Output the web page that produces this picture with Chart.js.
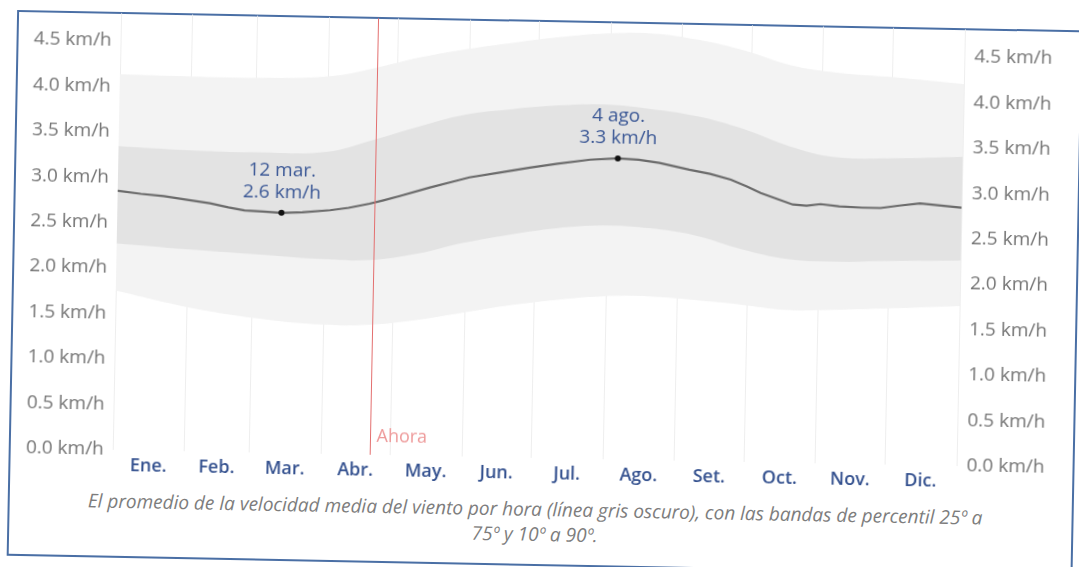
<!DOCTYPE html>
<html>
<head>
<meta charset="utf-8">
<script src="https://cdn.jsdelivr.net/npm/chart.js@4.4.1/dist/chart.umd.min.js"></script>
<style>
  html, body { margin: 0; padding: 0; background: #fff; }
  #page { position: relative; width: 1079px; height: 567px; overflow: hidden; }
  #sheet { position: absolute; left: 0; top: 0; width: 1079px; height: 567px;
           transform: rotate(1.1deg); transform-origin: 540px 283px; }
  #frame { position: absolute; left: 12px; top: 20px; width: 1066px; height: 546px;
           box-sizing: border-box; border: 2px solid #4a6fa5; }
  #chart { position: absolute; left: 0; top: 0; }
  #caption { position: absolute; left: 0; top: 497px; width: 1079px; text-align: center;
             font: italic 19px "Open Sans", sans-serif; line-height: 25px; color: #7d7d7d; }
</style>
</head>
<body>
<div id="page">
  <div id="sheet">
    <div id="frame"></div>
    <canvas id="chart" width="1079" height="488"></canvas>
    <div id="caption">El promedio de la velocidad media del viento por hora (línea gris oscuro), con las bandas de percentil 25º a<br>75º y 10º a 90º.</div>
  </div>
</div>
<script>
// velocidad media del viento – promedio diario y bandas de percentil (km/h)

const monthNames = ["Ene.", "Feb.", "Mar.", "Abr.", "May.", "Jun.", "Jul.", "Ago.", "Set.", "Oct.", "Nov.", "Dic."];
const monthStart = [0, 31, 59, 90, 120, 151, 181, 212, 243, 273, 304, 334, 365];
const monthMid = [15.5, 45, 74.5, 105, 135.5, 166, 196.5, 227.5, 258, 288.5, 319, 349.5];

const meanDays = [0, 10, 20, 31, 40, 48, 55, 63, 71, 80, 92, 100, 109, 115, 122, 135, 145, 152, 165, 178, 190, 204, 216, 225, 234, 247, 256, 265, 272, 278, 285, 292, 298, 304, 312, 322, 330, 338, 347, 356, 365];
const meanKmh = [2.85, 2.82, 2.80, 2.76, 2.73, 2.69, 2.66, 2.65, 2.64, 2.65, 2.68, 2.71, 2.76, 2.80, 2.85, 2.95, 3.02, 3.07, 3.13, 3.19, 3.24, 3.29, 3.31, 3.30, 3.27, 3.20, 3.16, 3.10, 3.03, 2.96, 2.90, 2.84, 2.83, 2.85, 2.83, 2.82, 2.82, 2.85, 2.88, 2.86, 2.84];

const bandDays = [0, 30, 60, 90, 110, 130, 150, 170, 190, 210, 230, 250, 270, 290, 310, 335, 365];
const p10 = [1.75, 1.59, 1.48, 1.42, 1.43, 1.49, 1.58, 1.67, 1.74, 1.79, 1.80, 1.77, 1.73, 1.68, 1.69, 1.72, 1.76];
const p25 = [2.27, 2.22, 2.18, 2.14, 2.14, 2.22, 2.35, 2.45, 2.53, 2.57, 2.55, 2.48, 2.34, 2.24, 2.22, 2.24, 2.26];
const p75 = [3.34, 3.31, 3.30, 3.32, 3.46, 3.62, 3.76, 3.83, 3.88, 3.90, 3.86, 3.79, 3.66, 3.48, 3.37, 3.37, 3.40];
const p90 = [4.13, 4.12, 4.12, 4.15, 4.25, 4.38, 4.48, 4.56, 4.63, 4.68, 4.69, 4.63, 4.52, 4.37, 4.30, 4.26, 4.20];

const yTicks = [0, 0.5, 1, 1.5, 2, 2.5, 3, 3.5, 4, 4.5];
const nowDay = 111;
const markDays = [71, 216];
const markDates = ["12 mar.", "4 ago."];

const pts = (xs, ys) => xs.map((d, i) => ({ x: d, y: ys[i] }));

const markers = {
  id: "markers",
  afterDatasetsDraw(chart) {
    const { ctx, chartArea, scales } = chart;
    const x = scales.x, y = scales.y;
    ctx.save();
    // Ahora
    const nx = Math.round(x.getPixelForValue(nowDay)) + 0.5;
    ctx.strokeStyle = "#e36f6f";
    ctx.lineWidth = 1;
    ctx.beginPath();
    ctx.moveTo(nx, chartArea.top);
    ctx.lineTo(nx, chartArea.bottom);
    ctx.stroke();
    ctx.fillStyle = "#ee9a9a";
    ctx.font = '18px "Open Sans"';
    ctx.textAlign = "left";
    ctx.textBaseline = "middle";
    ctx.fillText("Ahora", nx + 6, chartArea.bottom - 18);
    // min / max
    markDays.forEach((d, i) => {
      const v = meanKmh[meanDays.indexOf(d)];
      const px = x.getPixelForValue(d), py = y.getPixelForValue(v);
      ctx.fillStyle = "#111";
      ctx.beginPath();
      ctx.arc(px, py, 3, 0, Math.PI * 2);
      ctx.fill();
      ctx.fillStyle = "#3a5795";
      ctx.font = '19px "Open Sans"';
      ctx.textAlign = "center";
      ctx.fillText(markDates[i], px, py - 42);
      ctx.fillText(v.toFixed(1) + " km/h", px, py - 20);
    });
    ctx.restore();
  }
};

const yAxis = (pos, w) => ({
  type: "linear",
  position: pos,
  min: 0,
  max: 4.8,
  grid: { display: false, drawTicks: false },
  border: { display: false },
  afterBuildTicks: s => { s.ticks = yTicks.map(v => ({ value: v })); },
  afterFit: s => { s.width = w; },
  ticks: {
    padding: pos === "left" ? 9 : 10,
    color: "#747474",
    font: { family: "Open Sans", size: 19 },
    callback: v => v.toFixed(1) + " km/h"
  }
});

new Chart(document.getElementById("chart"), {
  type: "line",
  data: {
    datasets: [
      { data: pts(meanDays, meanKmh), borderColor: "#6b6b6b", borderWidth: 2.2, pointRadius: 0, fill: false, tension: 0 },
      { data: pts(bandDays, p75), borderWidth: 0, pointRadius: 0, fill: "+1", backgroundColor: "#e3e3e3", tension: 0.4 },
      { data: pts(bandDays, p25), borderWidth: 0, pointRadius: 0, fill: false, tension: 0.4 },
      { data: pts(bandDays, p90), borderWidth: 0, pointRadius: 0, fill: "+1", backgroundColor: "#f3f3f3", tension: 0.4 },
      { data: pts(bandDays, p10), borderWidth: 0, pointRadius: 0, fill: false, tension: 0.4 }
    ]
  },
  options: {
    responsive: false,
    animation: false,
    events: [],
    layout: { padding: { top: 20, left: 0, right: 0, bottom: 0 } },
    scales: {
      x: {
        type: "linear",
        position: "bottom",
        min: 0,
        max: 365,
        grid: { display: false, drawTicks: false },
        border: { display: false },
        afterBuildTicks: s => { s.ticks = monthMid.map(v => ({ value: v })); },
        afterFit: s => { s.height = 30; },
        ticks: {
          padding: 5,
          maxRotation: 0,
          autoSkip: false,
          color: "#34518f",
          font: { family: "Open Sans", size: 18, weight: "600" },
          callback: (v, i) => monthNames[i]
        }
      },
      xg: {
        type: "linear",
        position: "bottom",
        min: 0,
        max: 365,
        grid: { color: "#eeeeee", drawTicks: false },
        border: { display: false },
        afterBuildTicks: s => { s.ticks = monthStart.map(v => ({ value: v })); },
        afterFit: s => { s.height = 0; },
        ticks: { display: false }
      },
      y: yAxis("left", 116),
      y2: yAxis("right", 119)
    },
    plugins: {
      legend: { display: false },
      tooltip: { enabled: false },
      filler: { drawTime: "beforeDatasetsDraw" }
    }
  },
  plugins: [markers]
});
</script>
</body>
</html>
